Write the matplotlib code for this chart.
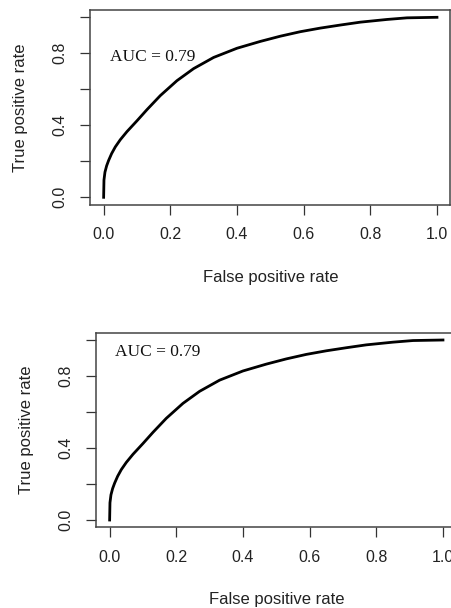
import matplotlib
matplotlib.use("Agg")
import matplotlib.pyplot as plt

# ROC curve (same curve in both panels)
fpr = [0, 0.001, 0.004, 0.009, 0.015, 0.024, 0.035, 0.05, 0.07,
       0.1, 0.13, 0.17, 0.22, 0.27, 0.33, 0.4, 0.47, 0.53, 0.59,
       0.65, 0.71, 0.77, 0.85, 0.91, 1.0]
tpr = [0, 0.096, 0.14, 0.175, 0.205, 0.243, 0.28, 0.32, 0.365,
       0.425, 0.487, 0.565, 0.648, 0.715, 0.777, 0.828, 0.866, 0.895, 0.92,
       0.94, 0.957, 0.973, 0.988, 0.997, 1.0]
auc_text = "AUC = 0.79"
x_ticks = [0.0, 0.2, 0.4, 0.6, 0.8, 1.0]
x_ticklabels = ["0.0", "0.2", "0.4", "0.6", "0.8", "1.0"]
y_ticks = [0.0, 0.2, 0.4, 0.6, 0.8, 1.0]
y_ticklabels = ["0.0", "", "0.4", "", "0.8", ""]

W, H = 451, 608
sans = ["Liberation Sans", "DejaVu Sans"]
serif = ["Liberation Serif", "DejaVu Serif"]


def panneau(fig, left_px, bottom_px, auc_pos):
    ax = fig.add_axes([left_px / W, (H - bottom_px) / H, 360 / W, 194.4 / H])
    ax.plot(fpr, tpr, color="black", lw=2, solid_joinstyle="round")
    ax.set_xlim(-0.04, 1.04)
    ax.set_ylim(-0.04, 1.04)
    ax.set_xticks(x_ticks)
    ax.set_xticklabels(x_ticklabels, family=sans, fontsize=11.5, color="#222222")
    ax.set_yticks(y_ticks)
    ax.set_yticklabels(y_ticklabels, family=sans, fontsize=11.5, color="#222222",
                       rotation=90, va="center")
    ax.tick_params(axis="both", direction="out", length=7.2, width=0.9,
                   color="#333333")
    ax.tick_params(axis="x", pad=9)
    ax.tick_params(axis="y", pad=9)
    for sp in ax.spines.values():
        sp.set_linewidth(1.1)
        sp.set_color("#444444")
    ax.set_xlabel("False positive rate", family=sans, fontsize=12,
                  color="#222222", va="center")
    ax.xaxis.set_label_coords(0.5, -0.373)
    ax.set_ylabel("True positive rate", family=sans, fontsize=12,
                  color="#222222", va="center")
    ax.yaxis.set_label_coords(-0.195, 0.5)
    ax.text(auc_pos[0], auc_pos[1], auc_text, family=serif, fontsize=12.5,
            ha="left", va="center", color="#111111")
    return ax


fig = plt.figure(figsize=(W / 100, H / 100), dpi=100)
panneau(fig, 90.3, 204.5, (0.019, 0.78))
panneau(fig, 96.3, 527.2, (0.016, 0.935))
fig.savefig("out.png", dpi=100)
